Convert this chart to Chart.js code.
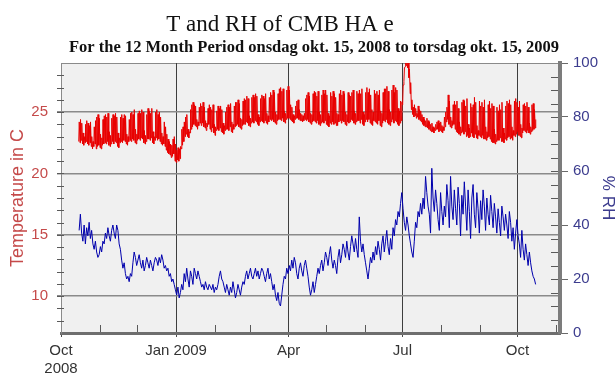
<!DOCTYPE html>
<html>
<head>
<meta charset="utf-8">
<script src="https://cdn.jsdelivr.net/npm/chart.js@4/dist/chart.umd.min.js"></script>
<style>
  html, body { margin: 0; padding: 0; background: #ffffff; }
  canvas { display: block; }
</style>
</head>
<body>
<canvas id="c" width="616" height="376"></canvas>
<script>
// Day numbers count from 1 Oct 2008; logging starts 15 Oct 2008.
const firstDay = 14;

const chartTitle = 'T and RH of CMB HA e';
const chartSubtitle = 'For the 12 Month Period onsdag okt. 15, 2008 to torsdag okt. 15, 2009';

// Daily maximum temperature (deg C), one week per row (Wed..Tue)
const tempMax = [
  24.2,24.4,24.1,23.3,23.0,24.0,24.3,
  24.1,23.9,24.2,23.0,22.6,23.8,24.3,
  24.6,24.8,24.5,23.2,22.9,24.4,24.7,
  24.8,24.6,24.9,23.4,23.1,24.5,24.8,
  24.7,24.9,24.6,23.3,22.9,24.6,24.8,
  24.5,24.8,24.7,23.2,23.0,24.4,24.9,
  25.0,24.8,25.2,23.6,23.2,24.9,25.1,
  24.9,25.2,25.0,23.5,23.1,24.8,25.3,
  25.1,24.9,25.3,23.4,23.0,25.0,25.2,
  24.8,25.0,24.6,23.3,23.0,24.2,23.8,
  23.2,22.8,22.6,22.4,22.3,22.8,23.0,
  22.4,21.9,22.1,22.0,22.2,23.6,23.8,
  24.2,24.6,24.8,23.6,23.4,25.2,25.6,
  25.8,25.6,25.5,24.4,24.2,25.4,25.7,
  25.5,25.8,25.4,24.3,24.1,25.3,25.6,
  25.4,25.2,25.6,24.0,23.8,25.1,25.5,
  25.3,25.5,25.2,24.1,23.9,25.0,25.4,
  25.6,25.4,25.7,24.2,24.0,25.5,25.8,
  25.8,26.0,25.7,24.5,24.4,25.9,26.1,
  26.0,26.3,26.1,24.7,24.5,26.2,26.4,
  26.2,26.5,26.3,24.8,24.6,26.1,26.4,
  26.3,26.1,26.5,24.9,24.7,26.2,26.6,
  26.4,26.8,26.6,25.0,24.8,26.5,26.9,
  27.0,26.7,26.9,25.1,24.9,26.8,27.1,
  26.8,25.6,25.4,24.8,24.7,25.5,25.9,
  26.0,25.2,24.9,24.8,24.7,24.9,26.1,
  26.4,26.6,26.3,24.9,24.8,26.5,26.7,
  26.6,26.3,26.7,25.0,24.8,26.4,26.8,
  26.5,26.8,26.4,24.9,24.7,26.6,26.3,
  26.7,26.5,26.2,24.9,24.8,26.5,26.8,
  26.4,26.7,26.5,25.0,24.8,26.6,26.4,
  26.3,26.6,26.8,25.1,24.9,26.7,26.5,
  26.8,26.5,26.9,25.0,24.8,26.6,27.0,
  26.6,26.9,26.4,25.2,25.0,26.8,26.5,
  26.7,26.4,26.8,25.1,24.9,26.6,26.9,
  26.9,27.1,26.7,25.2,25.0,26.8,27.2,
  26.6,27.0,26.8,25.3,25.1,25.9,25.8,
  27.2,28.6,29.0,29.1,29.0,28.5,27.4,
  26.0,25.4,25.6,25.3,24.9,25.5,25.2,
  25.1,24.8,24.6,24.4,24.3,24.5,24.3,
  24.2,24.0,24.1,23.8,23.7,24.0,24.2,
  24.3,24.1,24.2,23.9,23.8,24.6,25.0,
  25.4,26.4,25.9,24.6,24.3,25.6,25.9,
  25.6,25.9,25.3,24.2,23.8,25.8,26.0,
  25.9,25.5,26.1,24.0,23.7,25.7,25.4,
  25.6,26.2,25.8,23.9,23.5,25.9,25.5,
  25.8,25.4,26.0,23.8,23.4,25.6,25.9,
  25.3,25.7,25.5,23.6,23.2,25.4,25.1,
  25.6,25.2,25.8,23.7,23.3,25.5,25.9,
  25.7,26.0,25.6,23.8,23.5,25.9,26.1,
  25.8,25.4,25.9,24.0,23.7,25.6,25.7,
  25.5,25.8,25.4,24.1,23.8,25.6,25.7,
  25.2,24.4
];

// Daily minimum temperature (deg C)
const tempMin = [
  22.6,22.5,22.7,22.4,22.3,22.5,22.6,
  22.4,22.3,22.5,22.2,22.0,22.2,22.4,
  22.0,22.2,22.3,22.1,22.0,22.3,22.4,
  22.5,22.4,22.6,22.3,22.2,22.4,22.6,
  22.4,22.6,22.5,22.2,22.1,22.5,22.6,
  22.5,22.7,22.6,22.4,22.3,22.6,22.7,
  22.6,22.8,22.7,22.5,22.4,22.7,22.8,
  22.7,22.9,22.8,22.5,22.4,22.6,22.8,
  22.8,22.7,22.9,22.5,22.4,22.7,22.9,
  22.7,22.8,22.6,22.4,22.3,22.4,22.2,
  21.9,21.7,21.6,21.5,21.3,21.4,21.6,
  21.0,20.9,21.1,21.0,21.2,22.0,22.3,
  22.6,23.0,23.2,23.0,22.9,23.3,23.6,
  23.8,24.0,23.9,23.8,23.6,23.9,24.1,
  23.9,24.1,23.8,23.7,23.5,23.8,24.0,
  23.6,23.4,23.7,23.3,23.1,23.5,23.6,
  23.5,23.7,23.4,23.3,23.2,23.5,23.6,
  23.6,23.5,23.8,23.4,23.3,23.6,23.8,
  23.9,24.0,23.8,23.7,23.6,23.9,24.0,
  24.0,24.2,24.1,23.9,23.8,24.1,24.2,
  24.1,24.3,24.2,24.0,23.9,24.2,24.3,
  24.2,24.1,24.3,24.1,24.0,24.2,24.4,
  24.3,24.4,24.2,24.1,24.0,24.3,24.4,
  24.4,24.3,24.5,24.2,24.1,24.4,24.5,
  24.5,24.4,24.3,24.2,24.1,24.4,24.5,
  24.5,24.4,24.3,24.3,24.2,24.3,24.4,
  24.3,24.4,24.2,24.1,24.0,24.2,24.3,
  24.2,24.1,24.3,24.0,23.9,24.1,24.2,
  24.1,24.3,24.0,23.9,23.8,24.1,24.0,
  24.2,24.0,24.1,23.9,23.9,24.2,24.3,
  24.1,24.3,24.2,24.0,23.9,24.2,24.1,
  24.2,24.4,24.3,24.1,24.0,24.2,24.3,
  24.3,24.1,24.4,24.0,23.9,24.2,24.4,
  24.2,24.4,24.1,24.0,23.9,24.3,24.2,
  24.1,24.0,24.3,23.9,23.8,24.1,24.3,
  24.2,24.4,24.1,24.0,23.9,24.2,24.4,
  24.1,24.3,24.2,24.0,23.9,24.1,24.3,
  25.6,27.5,28.7,28.8,28.6,27.8,26.5,
  25.2,24.8,24.6,24.7,24.5,24.6,24.4,
  24.3,24.2,24.0,23.9,23.8,23.8,23.7,
  23.6,23.5,23.4,23.4,23.3,23.5,23.6,
  23.6,23.4,23.5,23.4,23.3,23.5,23.8,
  24.2,24.4,24.0,23.8,23.7,23.9,24.0,
  23.6,23.4,23.3,23.2,23.1,23.3,23.4,
  23.2,23.4,23.0,23.1,22.9,23.0,23.3,
  23.0,22.9,23.2,22.9,22.8,23.1,23.0,
  22.9,23.1,22.8,22.8,22.7,22.9,23.0,
  22.8,22.6,22.5,22.5,22.4,22.6,22.7,
  22.7,22.9,22.6,22.6,22.5,22.8,22.7,
  22.9,23.0,22.8,22.9,22.7,23.1,23.0,
  23.2,23.4,23.1,23.0,22.9,23.3,23.5,
  23.4,23.3,23.5,23.3,23.2,23.4,23.5,
  23.6,23.7
];

// Daily relative humidity (%)
const humidity = [
  38,44,37,34,40,33,39,
  36,41,35,38,33,31,34,
  30,28,29,32,30,34,33,
  37,35,39,36,34,38,40,
  37,35,40,38,33,31,27,
  24,26,22,20,21,19,22,
  21,26,30,28,25,27,29,
  26,24,27,23,25,28,26,
  24,27,25,23,26,28,27,
  25,28,26,29,27,24,25,
  23,24,21,22,19,20,18,
  16,14,17,13,15,18,16,
  22,19,24,20,17,23,21,
  18,24,22,20,23,21,19,
  17,18,16,19,17,16,18,
  17,16,18,15,17,16,18,
  21,23,20,19,17,15,18,
  16,14,17,15,19,16,13,
  15,18,16,14,17,19,18,
  21,23,20,22,24,21,20,
  22,24,21,23,20,22,24,
  23,21,19,22,24,20,22,
  19,16,18,14,12,15,11,
  10,14,18,21,20,24,22,
  25,23,27,24,28,26,22,
  20,24,26,23,21,25,27,
  24,21,17,14,16,19,15,
  18,21,24,22,25,27,23,
  26,30,28,25,29,32,27,
  24,27,25,22,28,31,26,
  29,33,31,28,34,30,27,
  32,36,33,30,35,31,28,
  43,34,30,33,29,26,23,
  20,24,28,26,30,27,32,
  29,34,31,27,33,36,30,
  34,38,32,29,35,31,39,
  36,42,40,45,43,48,52,
  46,41,38,43,40,36,33,
  30,28,34,41,39,45,43,
  48,44,50,46,58,52,47,
  44,37,61,50,45,53,48,
  42,38,52,45,40,47,43,
  55,49,39,58,47,42,53,
  46,40,54,48,36,51,44,
  56,47,38,53,45,35,50,
  55,44,39,52,46,37,49,
  42,53,47,38,50,44,40,
  51,45,39,48,43,37,46,
  41,36,47,43,38,44,40,
  35,45,41,34,39,31,37,
  42,36,33,28,38,31,27,
  33,29,25,30,26,23,21,
  20,18
];

// Axis ticks
const xTickDays = [0, 92, 182, 273, 365];
const xTickLabels = [['Oct', '2008'], 'Jan 2009', 'Apr', 'Jul', 'Oct'];
const tempTicks = [10, 15, 20, 25];
const rhTicks = [0, 20, 40, 60, 80, 100];

// Night minimum followed by daytime maximum for each day
const tempPoints = [];
tempMax.forEach((hi, i) => {
  tempPoints.push({ x: firstDay + i + 0.2, y: tempMin[i] });
  tempPoints.push({ x: firstDay + i + 0.6, y: hi });
});
const rhPoints = humidity.map((v, i) => ({ x: firstDay + i + 0.5, y: v }));

// First day of every month, as day numbers, for the small ticks on the time axis
const origin = Date.UTC(2008, 9, 1);
const monthStarts = [];
for (let m = 0; m <= 13; m++) {
  monthStarts.push(Math.round((Date.UTC(2008, 9 + m, 1) - origin) / 86400000));
}

const sans = '"Liberation Sans", Arial, sans-serif';
const serif = '"Liberation Serif", "Times New Roman", serif';

const plotFrame = {
  id: 'plotFrame',
  beforeDraw(chart) {
    const { ctx, chartArea: a } = chart;
    ctx.save();
    ctx.fillStyle = '#f0f0f0';
    ctx.fillRect(a.left, a.top, a.right - a.left, a.bottom - a.top);
    ctx.strokeStyle = '#8a8a8a';
    ctx.lineWidth = 1;
    ctx.beginPath();
    ctx.moveTo(a.left, Math.round(a.top) + 0.5);
    ctx.lineTo(a.right, Math.round(a.top) + 0.5);
    ctx.stroke();
    ctx.restore();
  },
  afterDraw(chart) {
    const { ctx, chartArea: a, scales } = chart;
    ctx.save();
    // minor ticks
    ctx.lineWidth = 1;
    ctx.strokeStyle = '#5a5a5a';
    ctx.beginPath();
    for (let v = 8; v <= 28; v++) {
      const y = Math.round(scales.yT.getPixelForValue(v)) + 0.5;
      ctx.moveTo(a.left - 4, y);
      ctx.lineTo(a.left + 3, y);
    }
    for (let v = 5; v < 100; v += 5) {
      const y = Math.round(scales.yR.getPixelForValue(v)) + 0.5;
      ctx.moveTo(a.right - 9, y);
      ctx.lineTo(a.right - 2, y);
    }
    monthStarts.forEach(d => {
      if (xTickDays.includes(d) || d > scales.x.max) return;
      const x = Math.round(scales.x.getPixelForValue(d)) + 0.5;
      ctx.moveTo(x, a.bottom - 8);
      ctx.lineTo(x, a.bottom - 1);
    });
    ctx.stroke();
    // headings
    ctx.fillStyle = '#111111';
    ctx.textAlign = 'center';
    ctx.textBaseline = 'alphabetic';
    ctx.font = 'normal 23px ' + serif;
    ctx.fillText(chartTitle, 280, 31);
    ctx.font = 'bold 16.5px ' + serif;
    ctx.fillText(chartSubtitle, 314, 52);
    ctx.restore();
  }
};

new Chart(document.getElementById('c'), {
  type: 'line',
  data: {
    datasets: [
      {
        label: 'Temperature',
        data: tempPoints,
        yAxisID: 'yT',
        borderColor: '#e80000',
        borderWidth: 1,
        pointRadius: 0,
        tension: 0
      },
      {
        label: '% RH',
        data: rhPoints,
        yAxisID: 'yR',
        borderColor: '#0000ad',
        borderWidth: 1,
        pointRadius: 0,
        tension: 0
      }
    ]
  },
  options: {
    responsive: false,
    animation: false,
    devicePixelRatio: 1,
    layout: { padding: { top: 63, left: 0, right: 0, bottom: 0 } },
    plugins: {
      legend: { display: false },
      tooltip: { enabled: false }
    },
    scales: {
      x: {
        type: 'linear',
        min: 0,
        max: 399,
        afterBuildTicks: s => { s.ticks = xTickDays.map(v => ({ value: v })); },
        afterFit: s => { s.height = 43; },
        ticks: {
          autoSkip: false,
          maxRotation: 0,
          padding: 5,
          color: '#333333',
          font: { family: sans, size: 15, lineHeight: 1.2 },
          callback: (v, i) => xTickLabels[i]
        },
        grid: {
          color: c => (c.index === 0 ? 'rgba(0,0,0,0)' : '#3e3e3e'),
          lineWidth: 1,
          tickLength: 4,
          tickColor: '#4a4a4a'
        },
        border: { color: '#6e6e6e', width: 3 }
      },
      yT: {
        type: 'linear',
        position: 'left',
        min: 7,
        max: 29,
        afterBuildTicks: s => { s.ticks = tempTicks.map(v => ({ value: v })); },
        afterFit: s => { s.width = 61; },
        ticks: {
          autoSkip: false,
          padding: 9,
          color: '#c54a4a',
          font: { family: sans, size: 15 }
        },
        title: {
          display: true,
          text: 'Temperature in C',
          color: '#c54a4a',
          font: { family: sans, size: 18, lineHeight: 1 },
          padding: { top: 9, bottom: 0 }
        },
        grid: { color: '#8a8a8a', lineWidth: 1.5, tickLength: 4 },
        border: { color: '#8a8a8a', width: 1 }
      },
      yR: {
        type: 'linear',
        position: 'right',
        min: 0,
        max: 100,
        afterBuildTicks: s => { s.ticks = rhTicks.map(v => ({ value: v })); },
        afterFit: s => { s.width = 56; },
        ticks: {
          autoSkip: false,
          padding: 5,
          color: '#3c3c8e',
          font: { family: sans, size: 15 }
        },
        title: {
          display: true,
          text: '% RH',
          color: '#3c3c8e',
          font: { family: sans, size: 17, lineHeight: 1 },
          padding: { top: 0, bottom: 0 }
        },
        grid: { drawOnChartArea: false, tickLength: 8, color: '#6a6a6a' },
        border: { color: '#7c7c7c', width: 4 }
      }
    }
  },
  plugins: [plotFrame]
});
</script>
</body>
</html>
